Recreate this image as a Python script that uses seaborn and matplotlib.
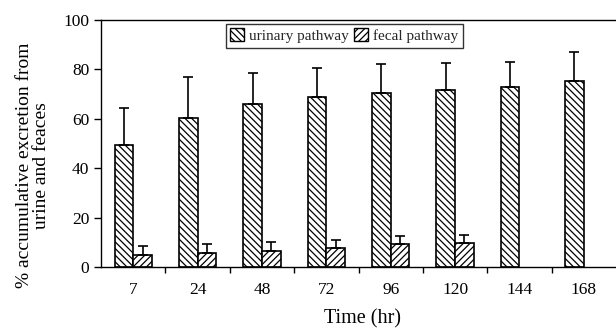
import numpy as np
import pandas as pd
import matplotlib
matplotlib.use("Agg")
import matplotlib.pyplot as plt
import seaborn as sns
from matplotlib.patches import Patch

times = ["7", "24", "48", "72", "96", "120", "144", "168"]
urinary = [49.4, 60.3, 65.9, 68.8, 70.6, 71.7, 73.1, 75.2]
urinary_err = [15.1, 16.5, 12.5, 11.6, 11.5, 11.0, 10.0, 11.7]
fecal = [5.1, 5.7, 6.6, 7.8, 9.3, 9.9]
fecal_err = [3.4, 3.6, 3.6, 3.3, 3.3, 3.2]
pathways = ["urinary pathway", "fecal pathway"]

rows = []
for t, v in zip(times, urinary):
    rows.append((t, pathways[0], v))
for t, v in zip(times, fecal):
    rows.append((t, pathways[1], v))
df = pd.DataFrame(rows, columns=["time", "pathway", "value"])

sns.set_theme(style="ticks")
plt.rcParams["font.family"] = ["Liberation Serif", "DejaVu Serif"]
plt.rcParams["hatch.linewidth"] = 0.9

fig = plt.figure(figsize=(6.16, 3.29), dpi=100)
ax = fig.add_axes([0.164, 0.188, 0.836, 0.751])

sns.barplot(data=df, x="time", y="value", hue="pathway", order=times,
            hue_order=pathways, errorbar=None, width=0.58,
            palette=["white", "white"], edgecolor="black", linewidth=1.2,
            ax=ax, legend=False)

hatches = {pathways[0]: "\\\\\\\\\\", pathways[1]: "/////"}

bars = [p for p in ax.patches if p.get_height() > 0 and not np.isnan(p.get_height())]
n_u = len(urinary)
u_bars = bars[:n_u]
f_bars = bars[n_u:n_u + len(fecal)]
for b in u_bars:
    b.set_hatch(hatches[pathways[0]])
for b in f_bars:
    b.set_hatch(hatches[pathways[1]])

ux = [b.get_x() + b.get_width() / 2 for b in u_bars]
fx = [b.get_x() + b.get_width() / 2 for b in f_bars]
ax.errorbar(ux, urinary, yerr=[np.zeros(len(urinary)), urinary_err], fmt="none",
            ecolor="black", elinewidth=1.2, capsize=3.5, capthick=1.2, zorder=1)
ax.errorbar(fx, fecal, yerr=[np.zeros(len(fecal)), fecal_err], fmt="none",
            ecolor="black", elinewidth=1.2, capsize=3.5, capthick=1.2, zorder=1)

ax.set_xlim(-0.5, 7.5)
ax.set_ylim(0, 100)
ax.set_yticks([0, 20, 40, 60, 80, 100])
ax.set_xticks(range(len(times)))
ax.set_xticklabels(times)
ax.set_xticks(np.arange(0.5, len(times) - 0.5, 1), minor=True)
ax.tick_params(axis="x", which="major", length=0, pad=11, labelsize=12.5, colors="black")
ax.tick_params(axis="x", which="minor", length=4, width=1, direction="out", color="black")
ax.tick_params(axis="y", which="major", length=5, width=1, direction="out",
               labelsize=12.5, colors="black")

for s in ["left", "bottom", "top"]:
    ax.spines[s].set_visible(True)
    ax.spines[s].set_color("black")
    ax.spines[s].set_linewidth(1.0)
ax.spines["right"].set_visible(False)

ax.set_xlabel("Time (hr)", fontsize=14.5, color="black")
ax.set_ylabel("% accumulative excretion from\nurine and feaces", fontsize=14,
              color="black", linespacing=1.0)
ax.xaxis.set_label_coords(0.508, -0.172)
ax.yaxis.set_label_coords(-0.100, 0.413)

handles = [Patch(facecolor="white", edgecolor="black", hatch=hatches[p], label=p)
           for p in pathways]
leg = ax.legend(handles=handles, loc="upper center", bbox_to_anchor=(0.472, 0.985),
                ncol=2, frameon=True, fancybox=False, fontsize=11,
                handlelength=0.9, handleheight=0.9, handletextpad=0.3,
                columnspacing=0.4, borderpad=0.3, borderaxespad=0)
leg.get_frame().set_edgecolor("black")
leg.get_frame().set_linewidth(1.0)

fig.savefig("out.png", dpi=100)
